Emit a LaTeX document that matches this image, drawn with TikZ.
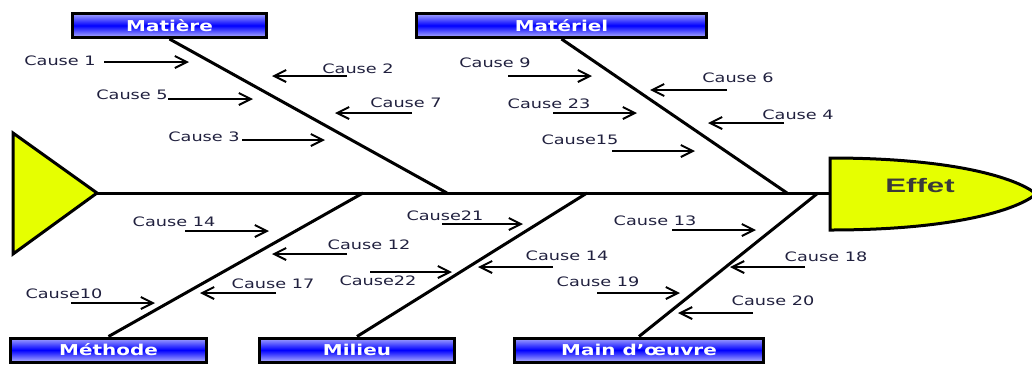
\documentclass[tikz,border=0pt]{standalone}
\usepackage{fontspec}
\setmainfont{DejaVu Sans}
\newfontfamily\causefont[FakeStretch=1.36]{DejaVu Sans}
\newfontfamily\catfont[FakeStretch=1.33]{DejaVu Sans Bold}
\newfontfamily\effetfont[FakeStretch=1.6]{Liberation Sans Bold}
\usetikzlibrary{arrows.meta}
\definecolor{fishyellow}{HTML}{E6FF00}
\definecolor{labelink}{HTML}{20203E}
\definecolor{effetink}{HTML}{3A3A3A}
\tikzset{
  catbox/.style={draw=black, line width=3pt, top color=blue!35!white,
    bottom color=blue!30!white, middle color=blue, text=white,
    minimum height=24, inner sep=0pt,
    font=\catfont\fontsize{15}{17}\selectfont},
  bone/.style={draw=black, line width=3pt},
  spine/.style={draw=black, line width=3pt},
  cause/.style={text=labelink, inner sep=0pt,
    font=\causefont\fontsize{13}{15}\selectfont},
  causearrow/.style={draw=black, line width=2pt,
    -{Straight Barb[length=12pt,width=12pt,line width=2pt]}},
  headshape/.style={draw=black, line width=3pt, fill=fishyellow, line join=miter}
}
\begin{document}
\begin{tikzpicture}[x=1pt,y=-1pt]
\useasboundingbox (0,0) rectangle (1032,365);
\begin{scope}
\clip (0,0) rectangle (1032,365);

% tail of the fish
\draw[headshape] (13,133) -- (97,193) -- (13,254) -- cycle;
\coordinate (tail) at (97,193);

% head of the fish with the effect
\draw[headshape] (830,158) .. controls (960,158) and (1020,180) .. (1036,194)
  .. controls (1020,208) and (960,230) .. (830,230) -- cycle;
\node[text=effetink, font=\effetfont\fontsize{19.5}{21}\selectfont] (effet) at (920,186) {Effet};
\coordinate (headL) at (830,193);

% spine
\draw[spine] (tail) -- (headL);

% category boxes
\node[catbox, minimum width=194] (matiere)  at (169.5,25.5) {Matière};
\node[catbox, minimum width=290] (materiel) at (561.5,25.5) {Matériel};
\node[catbox, minimum width=196] (methode)  at (108.5,350) {Méthode};
\node[catbox, minimum width=195] (milieu)   at (357,350) {Milieu};
\node[catbox, minimum width=249] (mainoeuvre) at (639,350) {Main d’œuvre};

% where the bones meet the spine
\coordinate (jA) at (447,193);
\coordinate (jB) at (787,193);
\coordinate (jC) at (363,193);
\coordinate (jD) at (587,193);
\coordinate (jE) at (818,193);

\draw[bone] (matiere.south) -- (jA);
\draw[bone] (materiel.south) -- (jB);
\draw[bone] (methode.north) -- (jC);
\draw[bone] (milieu.north) -- (jD);
\draw[bone] (mainoeuvre.north) -- (jE);
\end{scope}

% causes: label position / text / arrow start / arrow end
\foreach \i/\lx/\ly/\t/\ax/\ay/\bx/\by in {
  1/60/61/Cause 1/104/62/189/62,
  2/358/69/Cause 2/347/76/272/76,
  3/132/95/Cause 5/168/99/253/99,
  4/406/103/Cause 7/412/113/335/113,
  5/204/137/Cause 3/242/140/325/140,
  6/495/63/Cause 9/508/76/592/76,
  7/738/78/Cause 6/727/90/650/90,
  8/549/104/Cause 23/553/113/637/113,
  9/798/115/Cause 4/784/123/708/123,
  10/580/140/Cause15/612/151/695/151,
  11/174/222/Cause 14/185/231/269/231,
  12/369/245/Cause 12/347/254/272/254,
  13/273/284/Cause 17/276/293/200/293,
  14/64/294/Cause10/71/303/155/303,
  15/445/216/Cause21/442/224/523/224,
  16/378/281/Cause22/370/272/452/272,
  17/567/256/Cause 14/553/267/478/267,
  18/598/282/Cause 19/597/293/680/293,
  19/655/221/Cause 13/672/230/756/230,
  20/826/257/Cause 18/805/267/730/267,
  21/773/301/Cause 20/753/313/678/313}
{
  \node[cause] (c\i) at (\lx,\ly) {\t};
  \coordinate (ca\i) at (\ax,\ay);
  \coordinate (cb\i) at (\bx,\by);
  \draw[causearrow] (ca\i) -- (cb\i);
}
\end{tikzpicture}
\end{document}
